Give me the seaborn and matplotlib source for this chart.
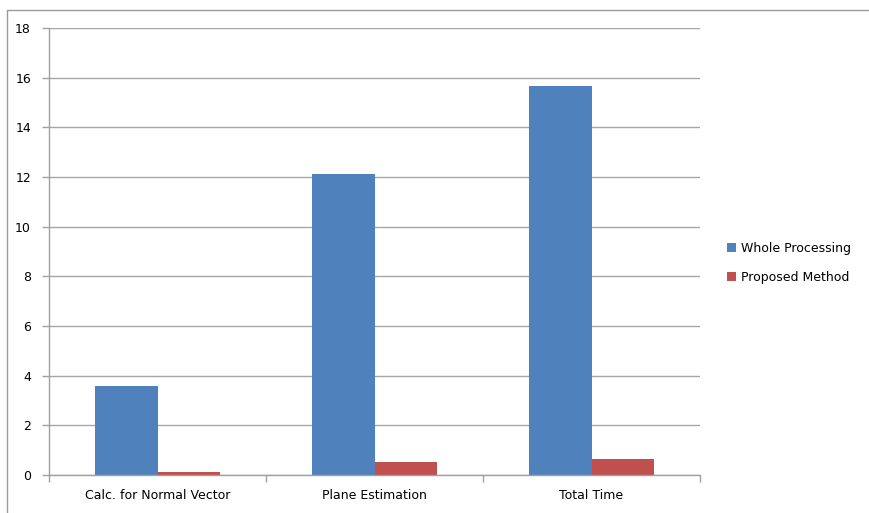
import matplotlib
matplotlib.use("Agg")
import matplotlib.pyplot as plt
import seaborn as sns
import pandas as pd
from matplotlib.lines import Line2D
from matplotlib.patches import Patch

categories = ["Calc. for Normal Vector", "Plane Estimation", "Total Time"]
whole_processing = [3.58, 12.12, 15.68]
proposed_method = [0.12, 0.51, 0.65]
series_names = ["Whole Processing", "Proposed Method"]
colors = ["#4F81BD", "#C0504D"]
y_ticks = [0, 2, 4, 6, 8, 10, 12, 14, 16, 18]

df = pd.DataFrame({
    "category": categories * 2,
    "series": [series_names[0]] * 3 + [series_names[1]] * 3,
    "value": whole_processing + proposed_method,
})

sns.set_theme(style="white")
plt.rcParams["font.family"] = ["DejaVu Sans"]

W, H = 869, 513
fig = plt.figure(figsize=(W / 100, H / 100), dpi=100)
ax = fig.add_axes([49 / W, 1 - 475 / H, (700 - 49) / W, (475 - 28) / H])

sns.barplot(data=df, x="category", y="value", hue="series", palette=colors,
            width=0.58, gap=0, saturation=1, ax=ax, legend=False,
            edgecolor="none")

ax.set_ylim(0, 18)
ax.set_xlim(-0.5, 2.5)
ax.set_yticks(y_ticks)
ax.set_yticklabels([str(t) for t in y_ticks], fontsize=9, color="#000000")
ax.set_xticks([0, 1, 2])
ax.set_xticklabels(categories, fontsize=9, color="#000000")
ax.tick_params(axis="x", which="major", length=0, pad=10)
ax.set_xticks([-0.5, 0.5, 1.5, 2.5], minor=True)
ax.tick_params(axis="x", which="minor", length=5, color="#A0A0A0", width=1,
               bottom=True)
ax.tick_params(axis="y", length=5, color="#A0A0A0", width=1, pad=8, left=True)
ax.set_xlabel("")
ax.set_ylabel("")
ax.yaxis.grid(True, color="#A6A6A6", linewidth=1)
ax.set_axisbelow(True)
for s in ["top", "right"]:
    ax.spines[s].set_visible(False)
for s in ["left", "bottom"]:
    ax.spines[s].set_color("#A0A0A0")
    ax.spines[s].set_linewidth(1)

handles = [Patch(facecolor=c, edgecolor="none") for c in colors]
fig.legend(handles, series_names, loc="center left",
           bbox_to_anchor=(716 / W, 1 - 263 / H), frameon=False,
           fontsize=9, handlelength=0.7, handleheight=0.7,
           handletextpad=0.4, labelspacing=1.3, labelcolor="#000000")

fig.add_artist(Line2D([7 / W, 7 / W], [0, 1 - 10 / H], transform=fig.transFigure,
                      color="#9A9A9A", linewidth=1))
fig.add_artist(Line2D([7 / W, 1], [1 - 10 / H, 1 - 10 / H], transform=fig.transFigure,
                      color="#9A9A9A", linewidth=1))

fig.savefig("out.png", dpi=100, facecolor="white")
